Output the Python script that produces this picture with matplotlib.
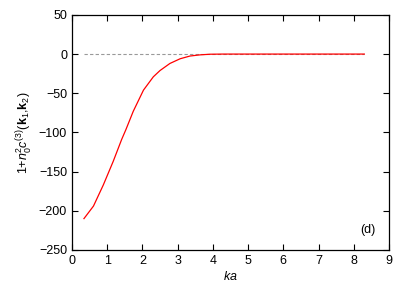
import matplotlib
matplotlib.use("Agg")
import matplotlib.pyplot as plt

plt.rcParams['font.family'] = ['Liberation Sans', 'DejaVu Sans']
plt.rcParams['mathtext.fontset'] = 'custom'
plt.rcParams['mathtext.rm'] = 'Liberation Sans'
plt.rcParams['mathtext.it'] = 'Liberation Sans:italic'
plt.rcParams['mathtext.bf'] = 'Liberation Sans:bold'

# curve values
ka = [0.34, 0.61, 0.89, 1.17, 1.41, 1.53, 1.74, 2.03, 2.31, 2.5, 2.78,
      3.07, 3.35, 3.64, 3.92, 4.3, 5.0, 6.0, 7.0, 8.3]
val = [-210, -194, -167, -137, -109, -96.5, -73, -46, -29, -21, -12,
       -6, -2.5, -1, -0.2, 0, 0, 0, 0, 0]
ref_x = [0.34, 8.3]
ref_y = [0, 0]

fig = plt.figure(figsize=(4.09, 2.92), dpi=100)
ax = fig.add_axes([0.176, 0.144, 0.775, 0.805])

ax.plot(ref_x, ref_y, color='#999999', linestyle='--', linewidth=0.8, dashes=(3, 2))
ax.plot(ka, val, color='red', linewidth=0.9)

ax.set_xlim(0, 9)
ax.set_ylim(-250, 50)
ax.set_xticks(range(0, 10))
ax.set_yticks(range(-250, 51, 50))
ax.tick_params(direction='in', top=True, right=True, length=4, labelsize=9, width=0.8)
for s in ax.spines.values():
    s.set_linewidth(0.9)

ax.set_xlabel('$ka$', fontsize=9, labelpad=2)
ax.set_ylabel(r'1+$n_0^2c^{(3)}$($\mathbf{k}_1$,$\mathbf{k}_2$)', fontsize=9, labelpad=3)
ax.text(8.4, -225, '(d)', fontsize=9, ha='center', va='center')

fig.savefig('out.png', dpi=100)
